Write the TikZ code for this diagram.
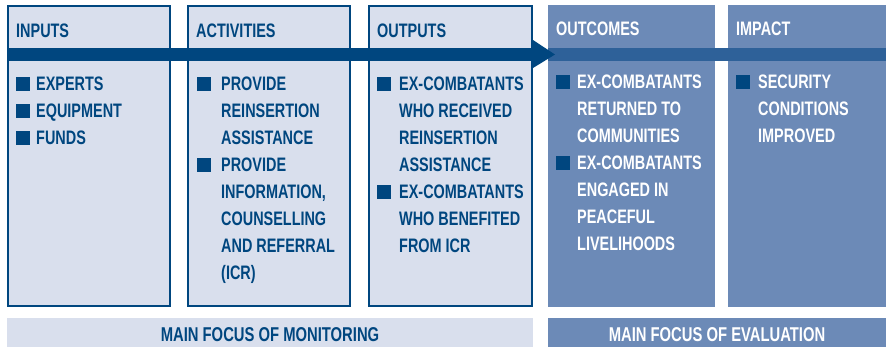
\documentclass[tikz,border=0pt]{standalone}
\usepackage{fontspec}
\setmainfont{Liberation Sans}[FakeStretch=0.74]
\definecolor{dblue}{HTML}{00467F}
\definecolor{lfill}{HTML}{D9DFED}
\definecolor{mfill}{HTML}{6C8AB7}
\definecolor{band}{HTML}{2E6199}
\tikzset{
  lightbox/.style={draw=dblue, line width=2.2bp, fill=lfill},
  darkbox/.style={fill=mfill},
  ttl/.style={anchor=base west, inner sep=0pt, font=\fontsize{19.5bp}{27bp}\selectfont\bfseries},
  itm/.style={anchor=north west, inner sep=0pt, align=left, font=\fontsize{19.5bp}{27bp}\selectfont\bfseries},
  bul/.style={fill=dblue, minimum width=14bp, minimum height=14bp, inner sep=0pt, anchor=north west},
  barlbl/.style={anchor=base, font=\fontsize{20bp}{22bp}\selectfont\bfseries, inner sep=0pt}
}
\begin{document}
\begin{tikzpicture}[x=1bp, y=-1bp]
\useasboundingbox (0,0) rectangle (890,348);
% boxes
\path[lightbox] (8,6) rectangle (170,306);
\path[lightbox] (188,6) rectangle (350,306);
\path[lightbox] (369,6) rectangle (532,306);
\path[darkbox] (548,5) rectangle (715,307);
\path[darkbox] (728,5) rectangle (886,307);
% bands
\fill[band] (548,48) rectangle (886,61);
\fill[dblue] (7,48) rectangle (535,61);
\fill[dblue] (533,40) -- (555,54.5) -- (533,68) -- cycle;
% bottom bars
\fill[lfill] (7,318) rectangle (533,347);
\fill[mfill] (548,318) rectangle (886,347);
\node[barlbl, text=dblue] (mon) at (270,341.5) {MAIN FOCUS OF MONITORING};
\node[barlbl, text=white] (eva) at (717,341.5) {MAIN FOCUS OF EVALUATION};
% titles
\node[ttl, text=dblue] (t1) at (16,37) {INPUTS};
\node[ttl, text=dblue] (t2) at (196,37) {ACTIVITIES};
\node[ttl, text=dblue] (t3) at (377,37) {OUTPUTS};
\node[ttl, text=white] (t4) at (556,35) {OUTCOMES};
\node[ttl, text=white] (t5) at (736,35) {IMPACT};
% inputs
\node[bul] (b11) at (16,77) {};
\node[bul] (b12) at (16,104) {};
\node[bul] (b13) at (16,131) {};
\node[itm, text=dblue] (i1) at (36,77) {EXPERTS\\EQUIPMENT\\FUNDS};
% activities
\node[bul] (b21) at (197,77) {};
\node[bul] (b22) at (197,158) {};
\node[itm, text=dblue] (i2) at (221,77) {PROVIDE\\REINSERTION\\ASSISTANCE\\PROVIDE\\INFORMATION,\\COUNSELLING\\AND REFERRAL\\(ICR)};
% outputs
\node[bul] (b31) at (377,77) {};
\node[bul] (b32) at (377,185) {};
\node[itm, text=dblue] (i3) at (399,77) {EX-COMBATANTS\\WHO RECEIVED\\REINSERTION\\ASSISTANCE\\EX-COMBATANTS\\WHO BENEFITED\\FROM ICR};
% outcomes
\node[bul] (b41) at (556,75) {};
\node[bul] (b42) at (556,156) {};
\node[itm, text=white] (i4) at (577,75) {EX-COMBATANTS\\RETURNED TO\\COMMUNITIES\\EX-COMBATANTS\\ENGAGED IN\\PEACEFUL\\LIVELIHOODS};
% impact
\node[bul] (b51) at (736,75) {};
\node[itm, text=white] (i5) at (758,75) {SECURITY\\CONDITIONS\\IMPROVED};
\end{tikzpicture}
\end{document}
